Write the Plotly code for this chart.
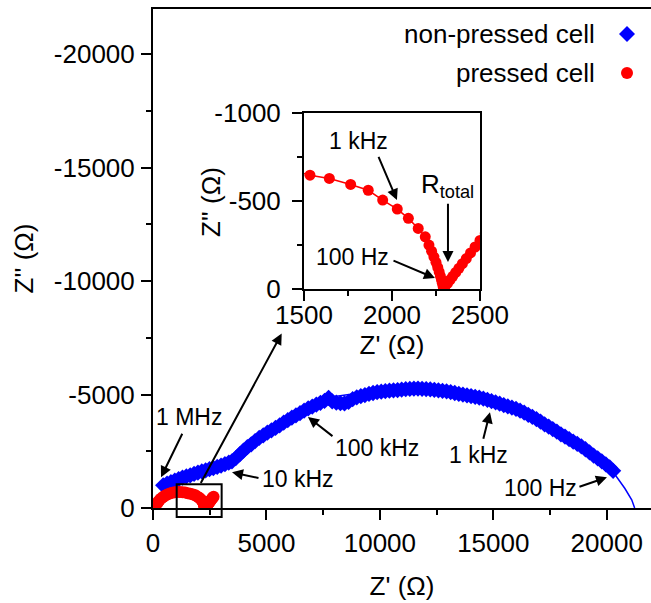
import plotly.graph_objects as go

# ---------------- data ----------------
# non-pressed cell (Z', Z'') in Ohm
np_zre = [450, 620, 790, 960, 1130, 1300, 1470, 1640, 1810, 1980, 2150, 2320, 2490, 2660, 2830,
          3000, 3170, 3340, 3480, 3650, 3820, 3990, 4160, 4330, 4500, 4680, 4860, 5040, 5220,
          5400, 5580, 5760, 5940, 6120, 6300, 6480, 6660, 6840, 7020, 7200, 7380, 7560, 7740,
          7900, 8080, 8260, 8440, 8620, 8800, 8980, 9160, 9340, 9520, 9700, 9880, 10060, 10240,
          10420, 10600, 10780, 10960, 11140, 11320, 11500, 11680, 11860, 12040, 12220, 12400,
          12580, 12760, 12940, 13120, 13300, 13480, 13660, 13840, 14020, 14200, 14380, 14560,
          14740, 14920, 15100, 15280, 15460, 15640, 15820, 16000, 16180, 16360, 16540, 16720,
          16900, 17080, 17260, 17440, 17620, 17800, 17980, 18160, 18340, 18520, 18700, 18880,
          19060, 19240, 19420, 19600, 19780, 19960, 20130, 20280]
np_zim = [-1000, -1075, -1140, -1210, -1270, -1340, -1390, -1440, -1500, -1560, -1610, -1660, -1710,
          -1760, -1810, -1870, -1930, -2000, -2060, -2200, -2360, -2530, -2680, -2810, -2950, -3090,
          -3200, -3320, -3420, -3530, -3640, -3760, -3870, -3980, -4080, -4180, -4290, -4390, -4470,
          -4560, -4640, -4720, -4860, -4700, -4650, -4620, -4610, -4680, -4800, -4880, -4930, -4980,
          -5030, -5070, -5110, -5130, -5150, -5170, -5190, -5200, -5220, -5240, -5250, -5260, -5265,
          -5255, -5245, -5235, -5210, -5190, -5165, -5146, -5110, -5070, -5030, -5000, -4970, -4935,
          -4900, -4868, -4820, -4770, -4715, -4660, -4600, -4540, -4480, -4430, -4370, -4290, -4210,
          -4110, -4020, -3920, -3810, -3690, -3590, -3480, -3370, -3250, -3150, -3040, -2930, -2830,
          -2720, -2590, -2450, -2310, -2190, -2060, -1920, -1790, -1640]

# fitted arc of the non-pressed cell
fit_zre = [7700, 8500, 9500, 10500, 11500, 12500, 13500, 14500, 15500, 16500, 17500, 18500,
           19500, 20300, 20800, 21100, 21230]
fit_zim = [-4870, -4990, -5120, -5200, -5240, -5220, -5100, -4880, -4560, -4150, -3620, -2980,
           -2220, -1560, -860, -360, 0]

# pressed cell (Z', Z'') in Ohm
p_zre = [180, 230, 290, 360, 440, 530, 630, 740, 850, 960, 1070, 1180, 1300, 1420, 1534, 1644,
         1765, 1865, 1947, 2030, 2093, 2149, 2189, 2210, 2225, 2238, 2250, 2260, 2268, 2275, 2281,
         2286, 2290, 2293, 2300, 2315, 2330, 2345, 2362, 2380, 2400, 2422, 2446, 2472, 2500,
         2530, 2562, 2596, 2632, 2670]
p_zim = [-200, -280, -350, -420, -485, -545, -597, -640, -672, -694, -705, -706, -697, -678, -648,
         -629, -595, -562, -506, -455, -402, -345, -297, -250, -215, -183, -152, -123, -97, -73,
         -52, -33, -17, -6, -12, -32, -52, -72, -94, -118, -144, -173, -205, -239, -276, -316,
         -358, -403, -450, -500]

# axis ticks
main_x_ticks = [0, 5000, 10000, 15000, 20000]
main_x_text = ["0", "5000", "10000", "15000", "20000"]
main_x_minor = [2500, 7500, 12500, 17500]
main_y_ticks = [0, -5000, -10000, -15000, -20000]
main_y_text = ["0", "-5000", "-10000", "-15000", "-20000"]
main_y_minor = [-2500, -7500, -12500, -17500]
ins_x_ticks = [1500, 2000, 2500]
ins_x_text = ["1500", "2000", "2500"]
ins_x_minor = [1750, 2250]
ins_y_ticks = [0, -500, -1000]
ins_y_text = ["0", "-500", "-1000"]
ins_y_minor = [-250, -750]

# zoom box drawn on the main plot (data units)
box_zre = [1044, 3026]
box_zim = [397, -1045]

BLUE = "#0000FF"
RED = "#FF0000"
FONT = "Liberation Sans, Arial, sans-serif"

W, H = 651, 603
ML, MR, MT, MB = 153, 0, 9, 95
XR = [0, 21950]
YR = [0, -22000]

fig = go.Figure()

fig.add_trace(go.Scatter(x=fit_zre, y=fit_zim, mode="lines", line=dict(color=BLUE, width=1.5),
                         showlegend=False, hoverinfo="skip"))
fig.add_trace(go.Scatter(x=np_zre, y=np_zim, mode="markers", name="non-pressed cell",
                         marker=dict(symbol="diamond", size=12.5, color=BLUE, line=dict(width=0)),
                         showlegend=False))
fig.add_trace(go.Scatter(x=p_zre, y=p_zim, mode="lines+markers", name="pressed cell",
                         line=dict(color=RED, width=1.5),
                         marker=dict(symbol="circle", size=12, color=RED, line=dict(width=0)),
                         showlegend=False))
# inset
fig.add_trace(go.Scatter(x=p_zre, y=p_zim, mode="lines+markers", xaxis="x2", yaxis="y2",
                         line=dict(color=RED, width=1.5),
                         marker=dict(symbol="circle", size=11, color=RED, line=dict(width=0)),
                         showlegend=False))

tickfont = dict(family=FONT, size=26, color="black")
axcommon = dict(showline=True, linecolor="black", linewidth=2, ticks="outside", ticklen=10,
                tickwidth=2, tickcolor="black", showgrid=False, zeroline=False,
                tickfont=tickfont, tickmode="array", automargin=False)

fig.update_layout(
    width=W, height=H,
    margin=dict(l=ML, r=MR, t=MT, b=MB, autoexpand=False),
    paper_bgcolor="white", plot_bgcolor="white",
    font=dict(family=FONT, color="black"),
    showlegend=False,
    xaxis=dict(axcommon, range=XR, domain=[0, 1], mirror=True,
               tickvals=main_x_ticks, ticktext=main_x_text,
               minor=dict(tickvals=main_x_minor, ticks="outside", ticklen=5, tickwidth=2,
                          tickcolor="black", showgrid=False),
               ticklabelstandoff=1,
               title=dict(text="Z' (Ω)", font=dict(family=FONT, size=26), standoff=20)),
    yaxis=dict(axcommon, range=YR, domain=[0, 1], mirror=False,
               tickvals=main_y_ticks, ticktext=main_y_text,
               minor=dict(tickvals=main_y_minor, ticks="outside", ticklen=5, tickwidth=2,
                          tickcolor="black", showgrid=False),
               ticklabelstandoff=1,
               title=dict(text="Z'' (Ω)", font=dict(family=FONT, size=26), standoff=13)),
    xaxis2=dict(axcommon, range=[1500, 2500], domain=[(304 - ML) / 498, (480 - ML) / 498],
                anchor="y2", mirror=True,
                tickvals=ins_x_ticks, ticktext=ins_x_text,
                minor=dict(tickvals=ins_x_minor, ticks="outside", ticklen=5, tickwidth=2,
                           tickcolor="black", showgrid=False),
                ticklabelstandoff=-8,
                title=dict(text="Z' (Ω)", font=dict(family=FONT, size=26), standoff=6)),
    yaxis2=dict(axcommon, range=[0, -1000], domain=[(508 - 289) / 499, (508 - 113.3) / 499],
                anchor="x2", mirror=True,
                tickvals=ins_y_ticks, ticktext=ins_y_text,
                minor=dict(tickvals=ins_y_minor, ticks="outside", ticklen=5, tickwidth=2,
                           tickcolor="black", showgrid=False),
                ticklabelstandoff=6),
)


def xdom(v):
    return (v - XR[0]) / (XR[1] - XR[0])


def ydom(v):
    return (v - YR[0]) / (YR[1] - YR[0])


def px2paper(px, py):
    return (px - ML) / (W - ML - MR), (H - MB - py) / (H - MT - MB)


# inset y title (placed closer to the tick labels than an axis title allows)
tx, ty = px2paper(211, 202)
fig.add_annotation(x=tx, y=ty, xref="paper", yref="paper", text="Z'' (Ω)", textangle=-90,
                   showarrow=False, xanchor="center", yanchor="middle",
                   font=dict(family=FONT, size=26, color="black"))

# zoom box
fig.add_shape(type="rect", xref="x domain", yref="y domain",
              x0=xdom(box_zre[0]), x1=xdom(box_zre[1]), y0=ydom(box_zim[0]), y1=ydom(box_zim[1]),
              line=dict(color="black", width=2), fillcolor="rgba(0,0,0,0)")

# custom legend (marker to the right of text)
lx, ly1 = px2paper(597, 34)
_, ly2 = px2paper(597, 73)
mx, _ = px2paper(627, 0)
fig.add_annotation(x=lx, y=ly1, xref="paper", yref="paper", text="non-pressed cell",
                   showarrow=False, xanchor="right", yanchor="middle",
                   font=dict(family=FONT, size=26, color="black"))
fig.add_annotation(x=lx, y=ly2, xref="paper", yref="paper", text="pressed cell",
                   showarrow=False, xanchor="right", yanchor="middle",
                   font=dict(family=FONT, size=26, color="black"))
fig.add_shape(type="path", xref="paper", yref="paper", xsizemode="pixel", ysizemode="pixel",
              xanchor=mx, yanchor=ly1, path="M 0 8 L 8 0 L 0 -8 L -8 0 Z",
              fillcolor=BLUE, line=dict(width=0))
fig.add_shape(type="circle", xref="paper", yref="paper", xsizemode="pixel", ysizemode="pixel",
              xanchor=mx, yanchor=ly2, x0=-6, x1=6, y0=-6, y1=6,
              fillcolor=RED, line=dict(width=0))


def arrow(xh, yh, xt, yt, ax="x", ay="y"):
    fig.add_annotation(x=xh, y=yh, ax=xt, ay=yt, xref=ax, yref=ay, axref=ax, ayref=ay,
                       text="", showarrow=True, arrowhead=2, arrowsize=1.1, arrowwidth=2,
                       arrowcolor="black", standoff=0, startstandoff=0)


def label(x, y, txt, ax="x", ay="y", size=23):
    fig.add_annotation(x=x, y=y, xref=ax, yref=ay, text=txt, showarrow=False,
                       xanchor="center", yanchor="middle",
                       font=dict(family=FONT, size=size, color="black"))


# main plot annotations
arrow(5672, -7690, 2071, -1032)
label(1587, -4000, "1 MHz"); arrow(353, -1354, 1322, -3338)
label(6400, -1270, "10 kHz"); arrow(3482, -1574, 4716, -1310)
label(9872, -2633, "100 kHz"); arrow(6831, -4012, 7977, -3117)
label(14367, -2324, "1 kHz"); arrow(14852, -4220, 14544, -2985)
label(17100, -870, "100 Hz"); arrow(20009, -1354, 18730, -913)

# inset annotations
label(1812, -841, "1 kHz", "x2", "y2"); arrow(2028, -506, 1920, -761, "x2", "y2")
label(1773, -182, "100 Hz", "x2", "y2"); arrow(2244, -62, 2000, -165, "x2", "y2")
label(2318, -590, "R<sub>total</sub>", "x2", "y2", size=26); arrow(2318, -153, 2318, -494, "x2", "y2")

fig.write_html("out.html", config={"displayModeBar": False},
               post_script="document.body.style.margin='0px';document.body.style.overflow='hidden';")
